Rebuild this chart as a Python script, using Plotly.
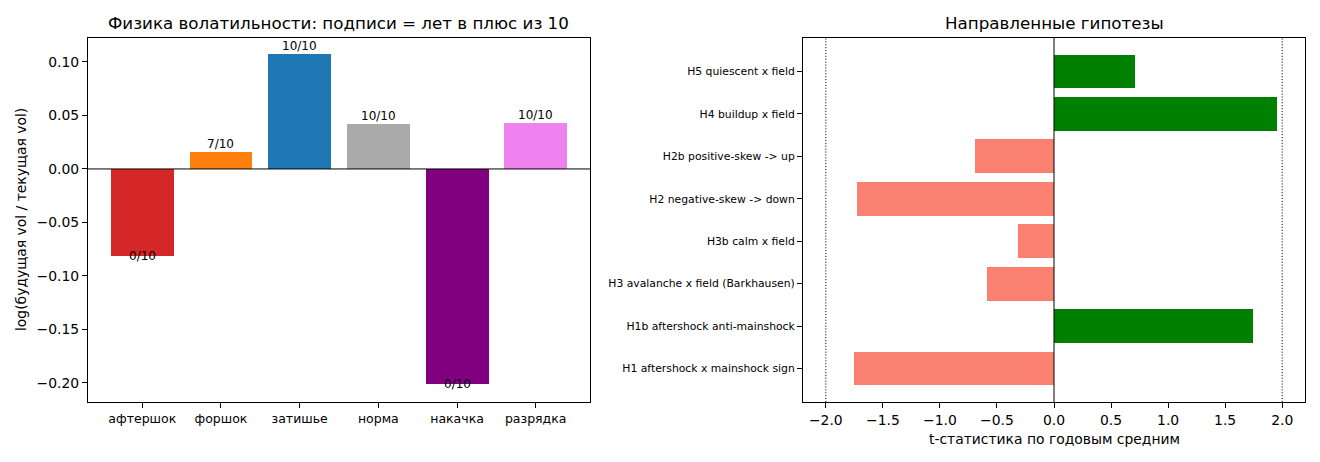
import plotly.graph_objects as go

# left panel: volatility regimes
regimes = ['афтершок', 'форшок', 'затишье', 'норма', 'накачка', 'разрядка']
log_vol_ratio = [-0.081, 0.016, 0.107, 0.042, -0.201, 0.043]
years_up = ['0/10', '7/10', '10/10', '10/10', '0/10', '10/10']
regime_colors = ['#d62728', '#ff7f0e', '#1f77b4', '#aaaaaa', '#800080', '#ee82ee']

# right panel: directional hypotheses (bottom to top)
hypotheses = ['H1 aftershock x mainshock sign', 'H1b aftershock anti-mainshock',
              'H3 avalanche x field (Barkhausen)', 'H3b calm x field',
              'H2 negative-skew -> down', 'H2b positive-skew -> up',
              'H4 buildup x field', 'H5 quiescent x field']
t_stat = [-1.752, 1.743, -0.589, -0.318, -1.726, -0.694, 1.953, 0.708]

W, H = 1320, 462
OFF = 8  # page body margin of the html wrapper
FONT = 'DejaVu Sans'


def px_x(v):
    return (v - OFF) / W


def px_y(v):
    return 1 - (v - OFF) / H


fig = go.Figure()

fig.add_trace(go.Bar(x=regimes, y=log_vol_ratio, marker_color=regime_colors,
                     marker_line_width=0, width=0.8, xaxis='x', yaxis='y',
                     showlegend=False, hoverinfo='x+y'))

hyp_colors = ['green' if t > 0 else 'salmon' for t in t_stat]
fig.add_trace(go.Bar(y=hypotheses, x=t_stat, orientation='h', marker_color=hyp_colors,
                     marker_line_width=0, width=0.8, xaxis='x2', yaxis='y2',
                     showlegend=False, hoverinfo='x+y'))

annotations = []
for cat, v, lab in zip(regimes, log_vol_ratio, years_up):
    annotations.append(dict(x=cat, y=v, xref='x', yref='y', text=lab, showarrow=False,
                            xanchor='center', yanchor='bottom' if v >= 0 else 'middle',
                            yshift=-1 if v >= 0 else 0,
                            font=dict(size=12, color='black', family=FONT)))

# titles and axis labels
annotations += [
    dict(x=(px_x(88) + px_x(590)) / 2, y=px_y(23), xref='paper', yref='paper',
         xanchor='center', yanchor='middle',
         text='Физика волатильности: подписи = лет в плюс из 10', showarrow=False,
         font=dict(size=16.7, color='black', family=FONT)),
    dict(x=(px_x(803) + px_x(1305)) / 2, y=px_y(23), xref='paper', yref='paper',
         xanchor='center', yanchor='middle',
         text='Направленные гипотезы', showarrow=False,
         font=dict(size=16.7, color='black', family=FONT)),
    dict(x=px_x(21), y=(px_y(38) + px_y(402)) / 2, xref='paper', yref='paper',
         xanchor='center', yanchor='middle',
         text='log(будущая vol / текущая vol)', textangle=-90, showarrow=False,
         font=dict(size=13.9, color='black', family=FONT)),
    dict(x=(px_x(803) + px_x(1305)) / 2, y=px_y(439), xref='paper', yref='paper',
         xanchor='center', yanchor='middle',
         text='t-статистика по годовым средним', showarrow=False,
         font=dict(size=13.9, color='black', family=FONT)),
]

shapes = [
    dict(type='line', xref='x domain', yref='y', x0=0, x1=1, y0=0, y1=0,
         line=dict(color='black', width=1)),
    dict(type='line', xref='x2', yref='y2 domain', x0=0, x1=0, y0=0, y1=1,
         line=dict(color='black', width=1)),
]
for xv in (-2, 2):
    shapes.append(dict(type='line', xref='x2', yref='y2 domain', x0=xv, x1=xv, y0=0, y1=1,
                       line=dict(color='black', width=1, dash='1.1px,1.8px')))

axis_common = dict(showgrid=False, zeroline=False, showline=True, mirror=True,
                   linecolor='black', linewidth=1.1, ticks='outside', ticklen=5,
                   tickwidth=1.1, tickcolor='black')

fig.update_layout(
    width=W, height=H,
    margin=dict(l=0, r=0, t=0, b=0),
    paper_bgcolor='white', plot_bgcolor='white',
    font=dict(family=FONT, color='black', size=13.9),
    bargap=0,
    xaxis=dict(domain=[px_x(88), px_x(590)], anchor='y', range=[-0.69, 5.69],
               tickfont=dict(size=12.5), **axis_common),
    yaxis=dict(domain=[px_y(402), px_y(38)], anchor='x', range=[-0.2178, 0.1224],
               tickvals=[-0.2, -0.15, -0.1, -0.05, 0, 0.05, 0.1], tickformat='.2f',
               tickfont=dict(size=13.9), **axis_common),
    xaxis2=dict(domain=[px_x(803), px_x(1305)], anchor='y2', range=[-2.2, 2.2],
                tickvals=[-2, -1.5, -1, -0.5, 0, 0.5, 1, 1.5, 2], tickformat='.1f',
                tickfont=dict(size=13.9), **axis_common),
    yaxis2=dict(domain=[px_y(402), px_y(38)], anchor='x2', range=[-0.79, 7.79],
                tickfont=dict(size=10.8), **axis_common),
    annotations=annotations,
    shapes=shapes,
)

fig.write_html('out.html')
